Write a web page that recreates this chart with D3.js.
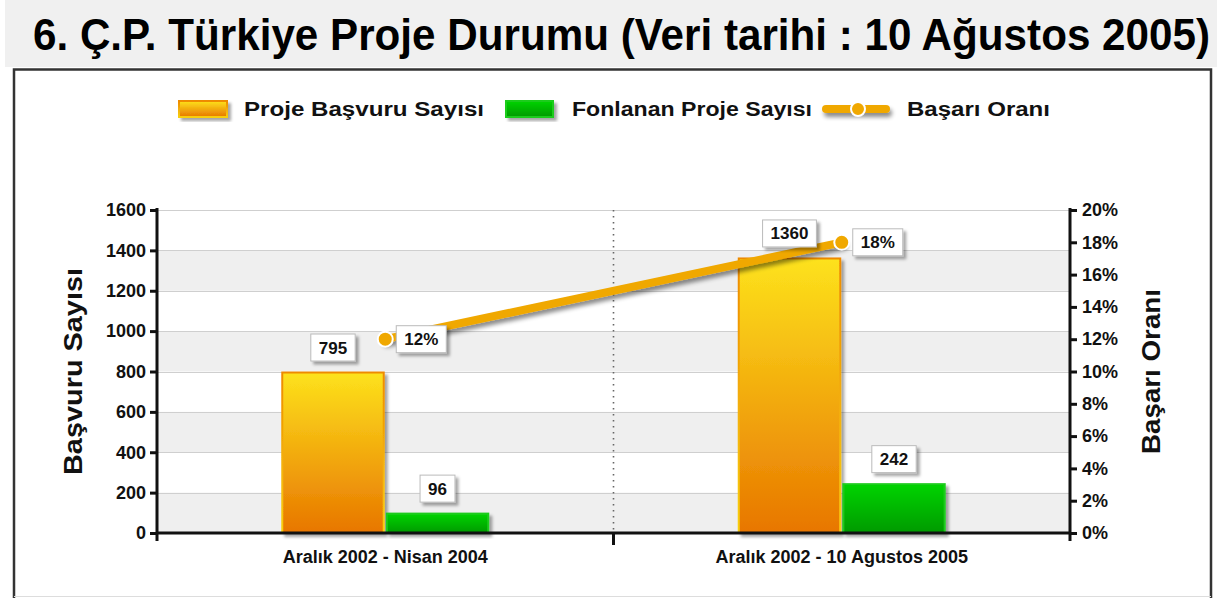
<!DOCTYPE html>
<html><head><meta charset="utf-8">
<script src="https://cdn.jsdelivr.net/npm/d3@7"></script>
<style>
html,body{margin:0;padding:0;background:#fff;}
svg{display:block;font-family:"Liberation Sans",Arial,Helvetica,sans-serif;font-weight:bold;}
</style></head>
<body>
<svg id="chart" width="1223" height="598"></svg>
<script>
// ---- data ----
const title = "6. Ç.P. Türkiye Proje Durumu (Veri tarihi : 10 Ağustos 2005)";
const categories = ["Aralık 2002 - Nisan 2004", "Aralık 2002 - 10 Agustos 2005"];
const seriesNames = ["Proje Başvuru Sayısı", "Fonlanan Proje Sayısı", "Başarı Oranı"];
const basvuru = [795, 1360];
const fonlanan = [96, 242];
const basari = [12, 18];
const leftTicks = [0, 200, 400, 600, 800, 1000, 1200, 1400, 1600];
const rightTicks = [0, 2, 4, 6, 8, 10, 12, 14, 16, 18, 20];
const leftTitle = "Başvuru Sayısı";
const rightTitle = "Başarı Oranı";

const svg = d3.select("#chart");
const defs = svg.append("defs");

function grad(id, c1, c2) {
  const g = defs.append("linearGradient").attr("id", id).attr("x1", 0).attr("y1", 0).attr("x2", 0).attr("y2", 1);
  g.append("stop").attr("offset", "0%").attr("stop-color", c1);
  g.append("stop").attr("offset", "100%").attr("stop-color", c2);
}
grad("gOrange", "#fde21c", "#e87600");
grad("gOrangeStroke", "#ee8a00", "#f8cf10");
grad("gGreen", "#00d400", "#009a00");
const sh = defs.append("filter").attr("id", "shadow").attr("x", "-20%").attr("y", "-20%").attr("width", "150%").attr("height", "150%");
sh.append("feDropShadow").attr("dx", 3).attr("dy", 3).attr("stdDeviation", 1.6).attr("flood-color", "#000").attr("flood-opacity", 0.35);
const sh2 = defs.append("filter").attr("id", "lshadow").attr("filterUnits", "userSpaceOnUse")
  .attr("x", 0).attr("y", 0).attr("width", 1223).attr("height", 598);
sh2.append("feDropShadow").attr("dx", 2).attr("dy", 4).attr("stdDeviation", 2).attr("flood-color", "#000").attr("flood-opacity", 0.45);

// ---- header & frame ----
svg.append("rect").attr("x", 5).attr("y", 0).attr("width", 1212).attr("height", 67).attr("fill", "#f0f0f0");
svg.append("g").attr("transform", "translate(33,50) scale(1,1.2)")
  .append("text").attr("x", 0).attr("y", 0).attr("font-size", 37)
  .attr("textLength", 1177).attr("lengthAdjust", "spacingAndGlyphs")
  .attr("fill", "#000").text(title);
svg.append("rect").attr("x", 14).attr("y", 69.5).attr("width", 1197).attr("height", 560)
  .attr("fill", "#fff").attr("stroke", "#333").attr("stroke-width", 2.5);
svg.append("line").attr("x1", 14).attr("x2", 1211).attr("y1", 596.5).attr("y2", 596.5).attr("stroke", "#ddd");

// ---- scales ----
const L = 157, R = 1070, T = 210, B = 533;
const y = d3.scaleLinear().domain([0, 1600]).range([B, T]);
const yr = d3.scaleLinear().domain([0, 20]).range([B, T]);
const x0 = d3.scaleBand().domain(categories).range([L, R]).padding(0);
const x1 = d3.scaleBand().domain([0, 1]).range([-104, 104]).paddingInner(0.01);
const cx = c => x0(c) + x0.bandwidth() / 2;

// bands
const g = svg.append("g");
for (let i = 0; i < leftTicks.length - 1; i++) {
  if (i % 2 === 0) {
    g.append("rect").attr("x", L).attr("width", R - L)
      .attr("y", y(leftTicks[i + 1])).attr("height", y(leftTicks[i]) - y(leftTicks[i + 1]))
      .attr("fill", "#efefef");
  }
}
g.selectAll("line.grid").data(leftTicks.slice(1)).join("line")
  .attr("x1", L).attr("x2", R).attr("y1", d => Math.round(y(d)) + 0.5).attr("y2", d => Math.round(y(d)) + 0.5)
  .attr("stroke", "#cfcfcf").attr("stroke-width", 1.2);
// dotted separator
g.append("line").attr("x1", (L + R) / 2).attr("x2", (L + R) / 2).attr("y1", T).attr("y2", B)
  .attr("stroke", "#666").attr("stroke-width", 1.6).attr("stroke-dasharray", "1.5,4.5");

// ---- bars ----
const barData = [];
categories.forEach((c, i) => {
  barData.push({ c, s: 0, v: basvuru[i] });
  barData.push({ c, s: 1, v: fonlanan[i] });
});
svg.append("g").selectAll("rect").data(barData).join("rect")
  .attr("x", d => cx(d.c) + x1(d.s) + 1)
  .attr("width", x1.bandwidth() - 2)
  .attr("y", d => y(d.v))
  .attr("height", d => y(0) - y(d.v))
  .attr("fill", d => d.s === 0 ? "url(#gOrange)" : "url(#gGreen)")
  .attr("stroke", d => d.s === 0 ? "url(#gOrangeStroke)" : "#1fcc1f")
  .attr("stroke-width", 2)
  .attr("filter", "url(#shadow)");

// ---- axes ----
const ax = svg.append("g");
const axisLeft = d3.axisLeft(y).tickValues(leftTicks).tickSize(7).tickPadding(4).tickFormat(d3.format("d"));
const gl = ax.append("g").attr("transform", `translate(${L},0)`).call(axisLeft);
const axisRight = d3.axisRight(yr).tickValues(rightTicks).tickSize(7).tickPadding(5).tickFormat(d => d + "%");
const gr = ax.append("g").attr("transform", `translate(${R},0)`).call(axisRight);
[gl, gr].forEach(a => {
  a.select(".domain").remove();
  a.selectAll(".tick line").attr("stroke", "#111").attr("stroke-width", 3);
  a.selectAll(".tick text").attr("font-size", 18).attr("font-family", "'Liberation Sans',Arial,sans-serif")
    .attr("font-weight", "bold").attr("fill", "#111");
});
ax.append("line").attr("x1", L).attr("x2", L).attr("y1", T - 2).attr("y2", B + 8).attr("stroke", "#111").attr("stroke-width", 3);
ax.append("line").attr("x1", R).attr("x2", R).attr("y1", T - 2).attr("y2", B + 8).attr("stroke", "#111").attr("stroke-width", 3);
ax.append("line").attr("x1", L).attr("x2", R).attr("y1", B).attr("y2", B).attr("stroke", "#111").attr("stroke-width", 3);
ax.append("line").attr("x1", (L + R) / 2).attr("x2", (L + R) / 2).attr("y1", B).attr("y2", B + 12).attr("stroke", "#111").attr("stroke-width", 3);
ax.selectAll("text.xl").data(categories).join("text")
  .attr("x", d => cx(d)).attr("y", 563).attr("text-anchor", "middle")
  .attr("font-size", 18).attr("fill", "#111").text(d => d);

svg.append("text").attr("transform", `translate(82,${(T + B) / 2}) rotate(-90)`)
  .attr("text-anchor", "middle").attr("font-size", 26).attr("fill", "#111")
  .attr("textLength", 207).attr("lengthAdjust", "spacingAndGlyphs").text(leftTitle);
svg.append("text").attr("transform", `translate(1160,${(T + B) / 2}) rotate(-90)`)
  .attr("text-anchor", "middle").attr("font-size", 26).attr("fill", "#111")
  .attr("textLength", 165).attr("lengthAdjust", "spacingAndGlyphs").text(rightTitle);

// ---- line ----
const lineColor = "#f0a800";
const pts = categories.map((c, i) => ({ c, v: basari[i] }));
const lineGen = d3.line().x(d => cx(d.c)).y(d => yr(d.v));
svg.append("path").datum(pts).attr("d", lineGen).attr("fill", "none")
  .attr("stroke", lineColor).attr("stroke-width", 8).attr("stroke-linecap", "round")
  .attr("filter", "url(#lshadow)");
svg.append("g").selectAll("circle").data(pts).join("circle")
  .attr("cx", d => cx(d.c)).attr("cy", d => yr(d.v)).attr("r", 7.5)
  .attr("fill", lineColor).attr("stroke", "#fff").attr("stroke-width", 2);

// ---- value labels ----
function label(xc, yc, txt, anchorLeft) {
  const gg = svg.append("g");
  const t = gg.append("text").attr("font-size", 17).attr("fill", "#111").text(txt);
  const w = t.node().getComputedTextLength() + 16, h = 27;
  const bx = anchorLeft ? xc : xc - w / 2;
  gg.insert("rect", "text").attr("x", bx).attr("y", yc - h / 2).attr("width", w).attr("height", h)
    .attr("fill", "#fff").attr("stroke", "#bbb").attr("stroke-width", 1).attr("filter", "url(#shadow)");
  t.attr("x", bx + w / 2).attr("y", yc + 6).attr("text-anchor", "middle");
}
barData.forEach(d => {
  label(cx(d.c) + x1(d.s) + x1.bandwidth() / 2, y(d.v) - 25, String(d.v), false);
});
pts.forEach(d => {
  label(cx(d.c) + 11, yr(d.v), d.v + "%", true);
});

// ---- legend ----
const lg = svg.append("g");
lg.append("rect").attr("x", 179).attr("y", 101).attr("width", 48).attr("height", 16)
  .attr("fill", "url(#gOrange)").attr("stroke", "url(#gOrangeStroke)").attr("stroke-width", 2).attr("filter", "url(#shadow)");
lg.append("rect").attr("x", 506).attr("y", 101).attr("width", 47).attr("height", 16)
  .attr("fill", "url(#gGreen)").attr("stroke", "#1fcc1f").attr("stroke-width", 2).attr("filter", "url(#shadow)");
lg.append("line").attr("x1", 826).attr("x2", 886).attr("y1", 109).attr("y2", 109)
  .attr("stroke", lineColor).attr("stroke-width", 8).attr("stroke-linecap", "round").attr("filter", "url(#lshadow)");
lg.append("circle").attr("cx", 858).attr("cy", 109).attr("r", 7).attr("fill", lineColor).attr("stroke", "#fff").attr("stroke-width", 2);
const legX = [244, 572, 907];
const legW = [240, 240, 143];
lg.selectAll("text").data(seriesNames).join("text")
  .attr("x", (d, i) => legX[i]).attr("y", 116).attr("font-size", 20).attr("fill", "#111")
  .attr("textLength", (d, i) => legW[i]).attr("lengthAdjust", "spacingAndGlyphs")
  .text(d => d);
</script>
</body></html>
